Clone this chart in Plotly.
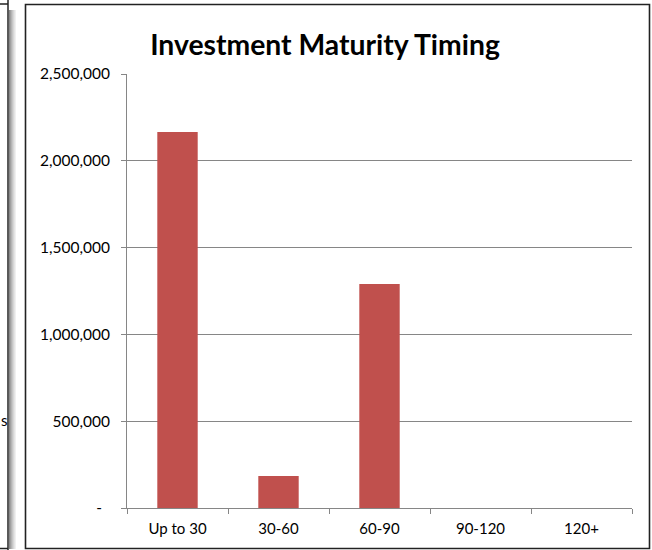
import plotly.graph_objects as go

# Data
categories = ["Up to 30", "30-60", "60-90", "90-120", "120+"]
values = [2166000, 184000, 1290000, 0, 0]
y_tickvals = [0, 500000, 1000000, 1500000, 2000000, 2500000]
y_ticktext = ["-\u00a0\u00a0", "500,000", "1,000,000", "1,500,000", "2,000,000", "2,500,000"]

W, H = 652, 550
L, R, T, B = 127, 20, 74, 42
PW, PH = W - L - R, H - T - B


def px(x):
    return (x - L) / PW


def py(y):
    return (H - B - y) / PH


FONT = "Lato, Carlito, Calibri, sans-serif"

fig = go.Figure()
fig.add_trace(go.Bar(x=categories, y=values, marker=dict(color="#C0504D", line=dict(width=0)),
                     hoverinfo="x+y"))

shapes = []
# Outer chart frame
shapes.append(dict(type="rect", xref="paper", yref="paper", x0=px(25.5), x1=px(649.5),
                   y0=py(548.5), y1=py(4.5), line=dict(color="#222222", width=1.6), layer="below"))
# Left neighbouring chart fragment
shapes.append(dict(type="line", xref="paper", yref="paper", x0=px(8), x1=px(8), y0=py(0), y1=py(550),
                   line=dict(color="#222222", width=1.5)))
shapes.append(dict(type="line", xref="paper", yref="paper", x0=px(0), x1=px(8), y0=py(4), y1=py(4),
                   line=dict(color="#222222", width=1.5)))
shapes.append(dict(type="line", xref="paper", yref="paper", x0=px(0), x1=px(8), y0=py(548.5), y1=py(548.5),
                   line=dict(color="#222222", width=1.5)))
greys = ["#8a8a8a", "#a0a0a0", "#b4b4b4", "#c6c6c6", "#d6d6d6", "#e4e4e4", "#f0f0f0"]
for i, g in enumerate(greys):
    shapes.append(dict(type="rect", xref="paper", yref="paper", x0=px(9 + i), x1=px(10 + i),
                       y0=py(549), y1=py(10), line=dict(width=0), fillcolor=g, layer="below"))

fig.update_layout(
    width=W, height=H,
    margin=dict(l=L, r=R, t=T, b=B, pad=0),
    paper_bgcolor="white", plot_bgcolor="white",
    showlegend=False,
    bargap=0.6,
    shapes=shapes,
    title=dict(text="<b>Investment Maturity Timing</b>", x=(325 / W), xanchor="center",
               y=1 - 45 / H, yanchor="middle", font=dict(family=FONT, size=28.3, color="black")),
    annotations=[dict(text="s", xref="paper", yref="paper", x=px(4), y=py(420), showarrow=False,
                      xanchor="center", yanchor="middle", font=dict(family=FONT, size=15, color="black"))],
    xaxis=dict(
        type="category", showgrid=False, showline=True, linecolor="#868686", linewidth=1,
        ticks="outside", ticklen=5, tickcolor="#868686", tickson="boundaries",
        tickfont=dict(family=FONT, size=15, color="black"), ticklabelstandoff=7,
        range=[-0.5, 4.5], fixedrange=True,
    ),
    yaxis=dict(
        range=[0, 2500000], tickvals=y_tickvals, ticktext=y_ticktext,
        showgrid=True, gridcolor="#868686", gridwidth=1,
        showline=True, linecolor="#868686", linewidth=1,
        ticks="outside", ticklen=5, tickcolor="#868686",
        tickfont=dict(family=FONT, size=15.5, color="black"), ticklabelstandoff=8,
        zeroline=False, fixedrange=True,
    ),
)

fig.write_html("out.html")
